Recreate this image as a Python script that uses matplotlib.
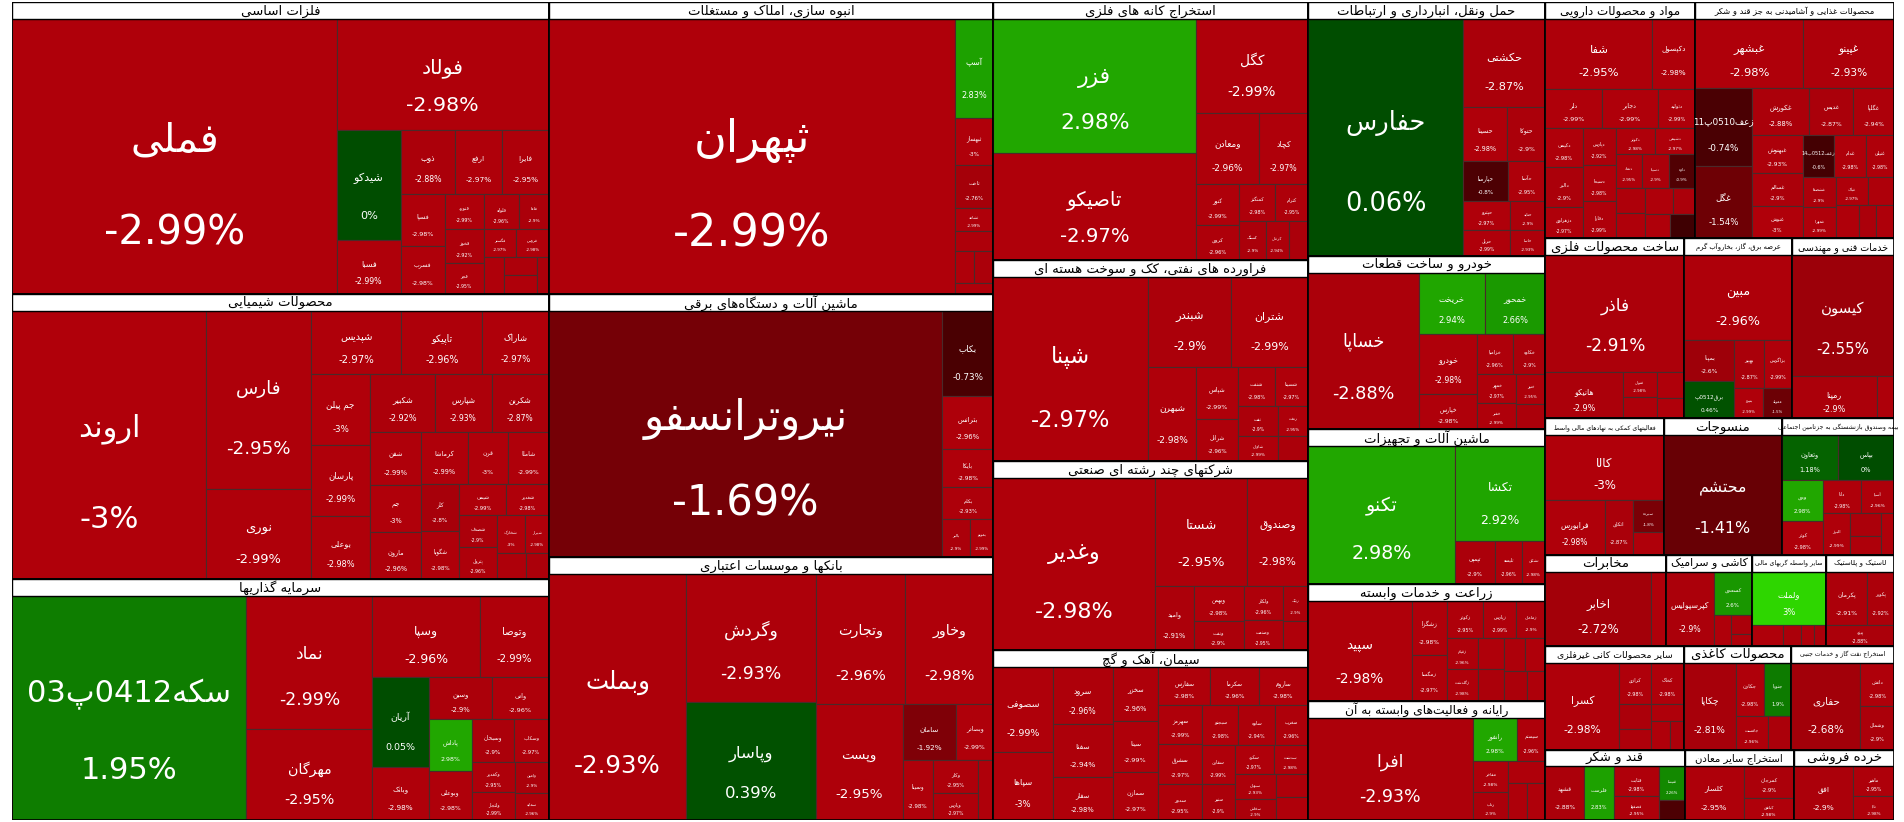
import re
import math
import matplotlib
matplotlib.use('Agg')
import matplotlib.pyplot as plt
from matplotlib.patches import Rectangle

plt.rcParams['font.family'] = ['DejaVu Sans']

# ---- data: per sector tickers, weights (area) and daily change (%) ----
sector_titles = {
    'felezat': 'فلزات اساسی', 'shimi': 'محصولات شیمیایی', 'sarmaye': 'سرمایه گذاریها',
    'anbooh': 'انبوه سازی، املاک و مستغلات', 'barghi': 'ماشین آلات و دستگاه‌های برقی',
    'bank': 'بانکها و موسسات اعتباری', 'kane': 'استخراج کانه های فلزی',
    'naft': 'فراورده های نفتی، کک و سوخت هسته ای', 'chand': 'شرکتهای چند رشته ای صنعتی',
    'siman': 'سیمان، آهک و گچ', 'haml': 'حمل ونقل، انبارداری و ارتباطات',
    'khodro': 'خودرو و ساخت قطعات', 'mashin': 'ماشین آلات و تجهیزات',
    'zeraat': 'زراعت و خدمات وابسته', 'rayane': 'رایانه و فعالیت‌های وابسته به آن',
    'daroo': 'مواد و محصولات دارویی', 'ghaza': 'محصولات غذایی و آشامیدنی به جز قند و شکر',
    'felezi': 'ساخت محصولات فلزی', 'bargh': 'عرضه برق، گاز، بخاروآب گرم',
    'fanni': 'خدمات فنی و مهندسی', 'komaki': 'فعالیتهای کمکی به نهادهای مالی واسط',
    'nasaji': 'منسوجات', 'bime': 'بیمه وصندوق بازنشستگی به جزتامین اجتماعی',
    'mokhaberat': 'مخابرات', 'kashi': 'کاشی و سرامیک', 'vasete': 'سایر واسطه گریهای مالی',
    'lastik': 'لاستیک و پلاستیک', 'kani': 'سایر محصولات کانی غیرفلزی',
    'kaghazi': 'محصولات کاغذی', 'hotel': 'استخراج نفت گاز و خدمات جنبی',
    'ghand': 'قند و شکر', 'madan': 'استخراج سایر معادن', 'khorde': 'خرده فروشی',
}

tickers = {
    'felezat': ['فملی', 'فولاد', 'شیدکو', 'فسبا', 'ذوب', 'ارفع', 'فایرا', 'فسپا', 'فسرب', 'فنورد', 'فخوز', 'فجر', 'فلوله', 'فاما', 'فگستر', 'فروس', 'فزرین', 'فافزا', 'فجهان', 'فرود'],
    'shimi': ['اروند', 'فارس', 'نوری', 'شپدیس', 'تاپیکو', 'شاراک', 'جم پیلن', 'بوعلی', 'شکبیر', 'پارسان', 'شپارس', 'شکربن', 'شفن', 'جم', 'مارون', 'کرماشا', 'قرن', 'شاملا', 'کلر', 'شگویا', 'شیمی', 'شغدیر', 'شصدف', 'پترول', 'شخارک', 'شیراز', 'شسپا', 'شلعاب'],
    'sarmaye': ['سکه0412پ03', 'نماد', 'مهرگان', 'وسپا', 'وتوصا', 'آریان', 'وبانک', 'وسین', 'واتی', 'وبوعلی', 'وسبحان', 'پاداش', 'وسکاب', 'وکغدیر', 'ولتجار', 'وامین', 'سمایه'],
    'anbooh': ['ثپهران', 'آسپ', 'ثاخت', 'ثبهساز', 'ثشاهد', 'ثعمرا', 'ثمسکن', 'ثرود', 'ثنوسا'],
    'barghi': ['نیروترانسفو', 'بکاب', 'بترانس', 'بایکا', 'بکام', 'بالبر', 'بموتو'],
    'bank': ['وبملت', 'وگردش', 'وپاسار', 'وتجارت', 'وخاور', 'وپست', 'سامان', 'وبصادر', 'وسینا', 'وکار', 'وپارس', 'دی'],
    'kane': ['فزر', 'تاصیکو', 'کگل', 'ومعادن', 'کچاد', 'کنور', 'کروی', 'کمنگنز', 'کترام', 'کسنگ', 'کزغال', 'کپرور'],
    'naft': ['شپنا', 'شبندر', 'شتران', 'شبهرن', 'شپاس', 'شرانل', 'شنفت', 'شسینا', 'نفت', 'شاوان', 'رنفت', 'شکلر'],
    'chand': ['وغدیر', 'شستا', 'وصندوق', 'وامید', 'وبهمن', 'ونفت', 'ولکار', 'وصنعت', 'رنیک', 'وسپه'],
    'siman': ['سصوفی', 'سپاها', 'سرود', 'سفنا', 'سفار', 'سخزر', 'سیتا', 'سمازن', 'سفارس', 'سکرما', 'ساروم', 'سهرمز', 'سشرق', 'سدور', 'سبجنو', 'ساوه', 'سغرب', 'سقاین', 'سنیر', 'سکرد', 'سدشت', 'سبهان', 'سخاش', 'سفاسی', 'ساراب'],
    'haml': ['حفارس', 'حکشتی', 'حسینا', 'حتوکا', 'حپارسا', 'حآسا', 'حپترو', 'حریل', 'حتاید', 'حاسا'],
    'khodro': ['خساپا', 'خریخت', 'خمحور', 'خودرو', 'خپارس', 'خزامیا', 'خکاوه', 'خمهر', 'خفنر', 'ختور', 'خاهن'],
    'mashin': ['تکنو', 'تکشا', 'تپمپی', 'تلیسه', 'تشکن'],
    'zeraat': ['سپید', 'زشگزا', 'زمگسا', 'زکوثر', 'زپارس', 'زماهان', 'زقیام', 'زگلدشت', 'زفکا', 'زبینا', 'زشریف', 'زنگان', 'زدشت', 'زملارد'],
    'rayane': ['افرا', 'رانفور', 'سیستم', 'مفاخر', 'رتاپ', 'اپرداز', 'رافزا', 'مداران'],
    'daroo': ['شفا', 'دکپسول', 'دلر', 'دجابر', 'دتولید', 'دکیمی', 'دالبر', 'دزهراوی', 'دپارس', 'دسبحا', 'دفارا', 'دکوثر', 'دشیمی', 'دتماد', 'دسینا', 'داوه', 'دعبید', 'دارو', 'دفرا', 'دابور', 'درازک', 'دامین'],
    'ghaza': ['غبشهر', 'غپینو', 'زعف0510پ11', 'غگل', 'غکورش', 'غدیس', 'غگلپا', 'غبهنوش', 'غسالم', 'غنوش', 'زعف0512پ14', 'غدام', 'غنیلی', 'غشصفا', 'غمهرا', 'غپاک', 'غمارگ', 'غزر', 'غشاذر', 'غالبر'],
    'felezi': ['فاذر', 'هانیکو', 'فنوال', 'فلامی', 'فجوش', 'فسازان'],
    'bargh': ['مبین', 'بمپنا', 'برق0512پ', 'بهپیر', 'بزاگرس', 'بنیرو', 'ممولد'],
    'fanni': ['کیسون', 'رمپنا', 'فنی'],
    'komaki': ['کالا', 'فرابورس', 'اتکای', 'سپرده', 'اعتبار'],
    'nasaji': ['محتشم'],
    'bime': ['وتعاون', 'بپاس', 'ودی', 'کوثر', 'دانا', 'آسیا', 'البرز', 'حافظ', 'بمیلا', 'وسما'],
    'mokhaberat': ['اخابر', 'همراه'],
    'kashi': ['کپرسپولیس', 'کسعدی', 'کفرا', 'کساوه', 'کحافظ'],
    'vasete': ['ولملت', 'ولصنم', 'ولپارس', 'ولبهمن', 'ولساپا'],
    'lastik': ['پکرمان', 'پکویر', 'پیزد'],
    'kani': ['کسرا', 'کرازی', 'کخاک', 'کلوند', 'کگاز', 'کهمدا', 'کاذر', 'کایزد'],
    'kaghazi': ['چکاپا', 'چکارن', 'چنوپا', 'چافست', 'چکاوه'],
    'hotel': ['حفاری', 'دانش', 'وشمال'],
    'ghand': ['قشهد', 'قلرست', 'قثابت', 'قصفها', 'قنیشا', 'قشکر'],
    'madan': ['کلسار', 'کمرجان', 'کبافق'],
    'khorde': ['افق', 'ماهیر', 'تابا'],
}

weights = {
    'felezat': [592, 156, 47, 23, 23, 20, 20, 15, 14, 9, 9, 8, 8, 7, 6, 6, 5, 4, 4, 3],
    'shimi': [347, 124, 63, 38, 34, 28, 28, 25, 25, 28, 22, 22, 18, 16, 16, 16, 14, 14, 12, 12, 10, 9, 8, 8, 7, 6, 5, 4],
    'sarmaye': [353, 113, 77, 59, 38, 34, 20, 18, 16, 14, 12, 15, 10, 9, 8, 7, 6],
    'anbooh': [743, 25, 11, 12, 6, 5, 4, 4, 3],
    'barghi': [648, 29, 18, 13, 11, 7, 6],
    'bank': [226, 111, 102, 78, 77, 67, 20, 14, 12, 10, 8, 6],
    'kane': [181, 146, 70, 30, 23, 12, 10, 9, 8, 7, 6, 5],
    'naft': [195, 51, 47, 31, 15, 12, 10, 9, 8, 7, 6, 5],
    'chand': [191, 69, 45, 17, 12, 10, 9, 8, 6, 5],
    'siman': [35, 28, 24, 22, 18, 17, 16, 15, 14, 13, 13, 12, 12, 11, 10, 10, 9, 9, 8, 8, 7, 7, 6, 5, 5],
    'haml': [247, 48, 16, 14, 12, 10, 9, 8, 7, 6],
    'khodro': [121, 28, 26, 24, 14, 10, 9, 8, 7, 6, 5],
    'mashin': [143, 61, 12, 8, 7],
    'zeraat': [76, 14, 12, 10, 9, 8, 7, 7, 6, 6, 5, 5, 5, 4],
    'rayane': [123, 14, 9, 8, 7, 6, 5, 5],
    'daroo': [50, 20, 15, 15, 10, 10, 10, 8, 8, 8, 8, 7, 7, 6, 6, 6, 5, 5, 5, 4, 4, 4],
    'ghaza': [50, 42, 30, 28, 18, 14, 13, 13, 11, 11, 9, 9, 8, 7, 7, 6, 5, 5, 4, 4],
    'felezi': [112, 25, 6, 5, 5, 4],
    'bargh': [63, 14, 13, 10, 9, 6, 6],
    'fanni': [86, 25, 5],
    'komaki': [55, 23, 11, 7, 5],
    'nasaji': [101],
    'bime': [18, 18, 12, 10, 9, 8, 8, 5, 4, 4],
    'mokhaberat': [60, 9],
    'kashi': [27, 13, 4, 3, 2],
    'vasete': [30, 5, 3, 2, 2],
    'lastik': [17, 11, 11],
    'kani': [48, 10, 10, 6, 5, 4, 4, 3],
    'kaghazi': [34, 11, 11, 8, 6],
    'hotel': [45, 11, 11],
    'ghand': [17, 13, 11, 9, 7, 4],
    'madan': [26, 13, 9],
    'khorde': [26, 10, 8],
}

changes = {
    'felezat': [-2.99, -2.98, 0, -2.99, -2.88, -2.97, -2.95, -2.98, -2.98, -2.99, -2.92, -2.95, -2.96, -2.9, -2.97, -2.98, -2.99, -2.93, -2.98, -2.9],
    'shimi': [-3, -2.95, -2.99, -2.97, -2.96, -2.97, -3, -2.98, -2.92, -2.99, -2.93, -2.87, -2.99, -3, -2.96, -2.99, -3, -2.99, -2.8, -2.98, -2.99, -2.98, -2.9, -2.96, -3, -2.98, -2.95, -2.9],
    'sarmaye': [1.95, -2.99, -2.95, -2.96, -2.99, 0.05, -2.98, -2.9, -2.96, -2.98, -2.9, 2.98, -2.97, -2.95, -2.99, -2.9, -2.96],
    'anbooh': [-2.99, 2.83, -2.76, -3, -2.99, -2.95, -2.98, -2.9, -2.97],
    'barghi': [-1.69, -0.73, -2.96, -2.98, -2.93, -2.9, -2.99],
    'bank': [-2.93, -2.93, 0.39, -2.96, -2.98, -2.95, -1.92, -2.99, -2.98, -2.95, -2.97, -2.98],
    'kane': [2.98, -2.97, -2.99, -2.96, -2.97, -2.99, -2.96, -2.98, -2.95, -2.9, -2.94, -2.9],
    'naft': [-2.97, -2.9, -2.99, -2.98, -2.99, -2.96, -2.98, -2.97, -2.9, -2.99, -2.95, -2.9],
    'chand': [-2.98, -2.95, -2.98, -2.91, -2.98, -2.9, -2.96, -2.95, -2.9, -2.97],
    'siman': [-2.99, -3, -2.96, -2.94, -2.98, -2.96, -2.99, -2.97, -2.98, -2.96, -2.98, -2.99, -2.97, -2.95, -2.98, -2.94, -2.96, -2.99, -2.9, -2.97, -2.98, -2.93, -2.9, -2.95, -2.99],
    'haml': [0.06, -2.87, -2.98, -2.9, -0.8, -2.95, -2.97, -2.99, -2.9, -2.93],
    'khodro': [-2.88, 2.94, 2.66, -2.98, -2.98, -2.96, -2.9, -2.97, -2.99, -2.95, -2.9],
    'mashin': [2.98, 2.92, -2.9, -2.96, -2.98],
    'zeraat': [-2.98, -2.98, -2.97, -2.95, -2.99, -2.9, -2.96, -2.98, -2.97, -2.9, -2.93, -2.99, -2.9, -2.95],
    'rayane': [-2.93, 2.98, -2.96, -2.98, -2.9, -2.97, -2.95, -2.99],
    'daroo': [-2.95, -2.98, -2.99, -2.99, -2.99, -2.98, -2.9, -2.97, -2.92, -2.98, -2.99, -2.98, -2.97, -2.95, -2.9, -0.9, -2.96, -2.98, -2.99, -2.9, -2.97, -0.5],
    'ghaza': [-2.98, -2.93, -0.74, -1.54, -2.88, -2.87, -2.94, -2.93, -2.9, -3, -0.6, -2.98, -2.98, -2.9, -2.99, -2.97, -2.95, -2.98, -2.9, -2.96],
    'felezi': [-2.91, -2.9, -2.98, -2.95, -2.97, -2.99],
    'bargh': [-2.96, -2.6, 0.46, -2.87, -2.99, -2.99, -1.5],
    'fanni': [-2.55, -2.9, -2.96],
    'komaki': [-3, -2.98, -2.87, -1.8, -2.98],
    'nasaji': [-1.41],
    'bime': [1.18, 0, 2.98, -2.98, -2.98, -2.96, -2.99, -2.9, -2.95, -2.97],
    'mokhaberat': [-2.72, -2.98],
    'kashi': [-2.9, 2.6, -2.98, -2.9, -2.95],
    'vasete': [3, -2.98, -2.9, -2.96, -2.9],
    'lastik': [-2.91, -2.92, -2.88],
    'kani': [-2.98, -2.98, -2.98, -2.9, -2.95, -2.99, -2.97, -2.9],
    'kaghazi': [-2.81, -2.98, 1.9, -2.96, -2.9],
    'hotel': [-2.68, -2.98, -2.9],
    'ghand': [-2.88, 2.83, -2.98, -2.95, 2.26, -0.8],
    'madan': [-2.95, -2.9, -2.98],
    'khorde': [-2.9, -2.95, -2.98],
}

# columns -> rows -> sectors
columns = [
    [['felezat'], ['shimi'], ['sarmaye']],
    [['anbooh'], ['barghi'], ['bank']],
    [['kane'], ['naft'], ['chand'], ['siman']],
    [['haml'], ['khodro'], ['mashin'], ['zeraat'], ['rayane']],
    [['daroo', 'ghaza'], ['felezi', 'bargh', 'fanni'], ['komaki', 'nasaji', 'bime'],
     ['mokhaberat', 'kashi', 'vasete', 'lastik'], ['kani', 'kaghazi', 'hotel'],
     ['ghand', 'madan', 'khorde']],
]

# ---- minimal persian shaping so glyphs join and read right-to-left ----
FORMS = {
    'ا': (0xFE8D, 0xFE8E, None, None), 'آ': (0xFE81, 0xFE82, None, None),
    'ب': (0xFE8F, 0xFE90, 0xFE91, 0xFE92), 'پ': (0xFB56, 0xFB57, 0xFB58, 0xFB59),
    'ت': (0xFE95, 0xFE96, 0xFE97, 0xFE98), 'ث': (0xFE99, 0xFE9A, 0xFE9B, 0xFE9C),
    'ج': (0xFE9D, 0xFE9E, 0xFE9F, 0xFEA0), 'چ': (0xFB7A, 0xFB7B, 0xFB7C, 0xFB7D),
    'ح': (0xFEA1, 0xFEA2, 0xFEA3, 0xFEA4), 'خ': (0xFEA5, 0xFEA6, 0xFEA7, 0xFEA8),
    'د': (0xFEA9, 0xFEAA, None, None), 'ذ': (0xFEAB, 0xFEAC, None, None),
    'ر': (0xFEAD, 0xFEAE, None, None), 'ز': (0xFEAF, 0xFEB0, None, None),
    'ژ': (0xFB8A, 0xFB8B, None, None),
    'س': (0xFEB1, 0xFEB2, 0xFEB3, 0xFEB4), 'ش': (0xFEB5, 0xFEB6, 0xFEB7, 0xFEB8),
    'ص': (0xFEB9, 0xFEBA, 0xFEBB, 0xFEBC), 'ض': (0xFEBD, 0xFEBE, 0xFEBF, 0xFEC0),
    'ط': (0xFEC1, 0xFEC2, 0xFEC3, 0xFEC4), 'ظ': (0xFEC5, 0xFEC6, 0xFEC7, 0xFEC8),
    'ع': (0xFEC9, 0xFECA, 0xFECB, 0xFECC), 'غ': (0xFECD, 0xFECE, 0xFECF, 0xFED0),
    'ف': (0xFED1, 0xFED2, 0xFED3, 0xFED4), 'ق': (0xFED5, 0xFED6, 0xFED7, 0xFED8),
    'ک': (0xFB8E, 0xFB8F, 0xFB90, 0xFB91), 'گ': (0xFB92, 0xFB93, 0xFB94, 0xFB95),
    'ل': (0xFEDD, 0xFEDE, 0xFEDF, 0xFEE0), 'م': (0xFEE1, 0xFEE2, 0xFEE3, 0xFEE4),
    'ن': (0xFEE5, 0xFEE6, 0xFEE7, 0xFEE8), 'و': (0xFEED, 0xFEEE, None, None),
    'ه': (0xFEE9, 0xFEEA, 0xFEEB, 0xFEEC), 'ی': (0xFBFC, 0xFBFD, 0xFBFE, 0xFBFF),
    'ئ': (0xFE89, 0xFE8A, 0xFE8B, 0xFE8C),
}


def shape(s):
    out = []
    for i, c in enumerate(s):
        if c not in FORMS:
            if c != '\u200c':
                out.append(c)
            continue
        iso, fin, ini, med = FORMS[c]
        prev = s[i - 1] if i > 0 else ''
        nxt = s[i + 1] if i + 1 < len(s) else ''
        jp = prev in FORMS and FORMS[prev][2] is not None
        jn = ini is not None and nxt in FORMS
        if jp and jn:
            out.append(chr(med))
        elif jp:
            out.append(chr(fin))
        elif jn:
            out.append(chr(ini))
        else:
            out.append(chr(iso))
    tokens = re.findall(r'[0-9A-Za-z.%\-]+|.', ''.join(out))
    return ''.join(tokens[::-1])


def color(p):
    if p >= 3:
        return (0.18, 0.84, 0.0)
    if p >= 0:
        t = p / 3
        return (0.13 * t ** 2, 0.30 + 0.36 * t ** 1.5, 0.0)
    t = min(-p / 3, 1)
    return (0.16 + 0.53 * t, 0.0, 0.04 * t)


def worst(row, side):
    s = sum(row)
    return max(max(side * side * r / (s * s), s * s / (side * side * r)) for r in row)


def squarify(vals, x, y, w, h):
    total = sum(vals)
    vals = [v * w * h / total for v in vals]
    rects = []
    i = 0
    while i < len(vals):
        side = min(w, h)
        row = [vals[i]]
        j = i + 1
        while j < len(vals) and worst(row + [vals[j]], side) <= worst(row, side):
            row.append(vals[j])
            j += 1
        s = sum(row)
        if w >= h:
            cw = s / h
            yy = y
            for r in row:
                rects.append((x, yy, cw, r / cw))
                yy += r / cw
            x += cw
            w -= cw
        else:
            rh = s / w
            xx = x
            for r in row:
                rects.append((xx, y, r / rh, rh))
                xx += r / rh
            y += rh
            h -= rh
        i = j
    return rects


W, H = 1550.0, 675.0
HEAD = 14.0
PT = 1.214 * 0.72  # layout units -> points

fig = plt.figure(figsize=(19.04, 8.22), dpi=100)
ax = fig.add_axes([0.0064, 0.003, 0.9885, 0.994])
ax.set_xlim(0, W)
ax.set_ylim(H, 0)
ax.axis('off')


def sector_weight(k):
    return sum(weights[k])


col_tot = [sum(sector_weight(k) for row in col for k in row) for col in columns]
x0 = 0.0
for col, ct in zip(columns, col_tot):
    cw = W * ct / sum(col_tot)
    y0 = 0.0
    for row in col:
        rt = sum(sector_weight(k) for k in row)
        rh = H * rt / ct
        xx = x0
        for k in row:
            sw = cw * sector_weight(k) / rt
            # stocks
            order = sorted(range(len(weights[k])), key=lambda i: -weights[k][i])
            rects = squarify([weights[k][i] for i in order], xx, y0 + HEAD, sw, rh - HEAD)
            for i, (rx, ry, rw, rhh) in zip(order, rects):
                p = changes[k][i]
                ax.add_patch(Rectangle((rx, ry), rw, rhh, facecolor=color(p),
                                       edgecolor='#4a2a2a', lw=0.8))
                size = min(math.sqrt(rw * rhh) / 7.5, rw / 4.2, rhh / 4.5)
                if size >= 3.2:
                    fs = size * PT
                    ax.text(rx + rw / 2, ry + rhh * 0.44, shape(tickers[k][i]), color='white',
                            ha='center', va='center', fontsize=fs)
                    ax.text(rx + rw / 2, ry + rhh * 0.78, f'{p:g}%', color='white',
                            ha='center', va='center', fontsize=fs)
            # header, font shrunk to fit its box
            hp = Rectangle((xx, y0), sw, HEAD, facecolor='white', edgecolor='black', lw=1)
            ax.add_patch(hp)
            hfs = max(4.5, min(9.5, 0.92 * sw * PT / (0.55 * len(sector_titles[k]))))
            ax.text(xx + sw / 2, y0 + HEAD / 2 + 0.5, shape(sector_titles[k]), color='black',
                    ha='center', va='center', fontsize=hfs)
            ax.add_patch(Rectangle((xx, y0), sw, rh, facecolor='none', edgecolor='black', lw=1.2))
            xx += sw
        y0 += rh
    x0 += cw

fig.savefig('out.png', dpi=100)
